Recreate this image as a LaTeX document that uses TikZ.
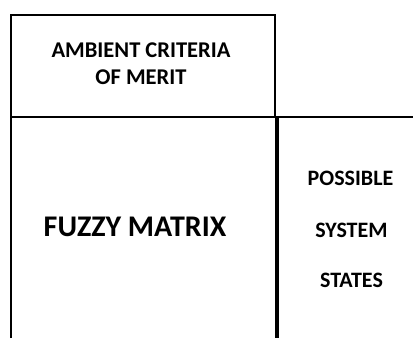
\documentclass[tikz,border=0pt]{standalone}
\usepackage{fontspec}
\setmainfont{Carlito}
\begin{document}
\begin{tikzpicture}[x=1pt,y=-1pt,
  rule/.style={line width=2pt},
  heavy/.style={line width=3.6pt},
  lbl/.style={inner sep=0pt, anchor=center}]
\useasboundingbox (0,0) rectangle (413,338);
% frame of the criteria box and the grid lines
\coordinate (tl) at (10.5,15);
\coordinate (tr) at (275,15);
\coordinate (bl) at (10.5,338);
\coordinate (ml) at (10.5,117);
\coordinate (mr) at (413,117);
\coordinate (cb) at (277,117);
\coordinate (cbb) at (277,338);
\draw[rule] (bl) -- (tl) -- (tr) -- (tr |- ml);
\draw[rule] (ml) -- (mr);
\draw[heavy] (cb) -- (cbb);
% labels
\node[lbl, font=\bfseries\fontsize{22.5}{22.5}\selectfont] (amb) at (141,50.5) {AMBIENT CRITERIA};
\node[lbl, font=\bfseries\fontsize{22.5}{22.5}\selectfont] (merit) at (141,77) {OF MERIT};
\node[lbl, font=\bfseries\fontsize{30}{30}\selectfont] (fuzzy) at (135,227) {FUZZY MATRIX};
\node[lbl, font=\bfseries\fontsize{22}{22}\selectfont] (poss) at (350.5,178) {POSSIBLE};
\node[lbl, font=\bfseries\fontsize{22}{22}\selectfont] (sys) at (351.5,230) {SYSTEM};
\node[lbl, font=\bfseries\fontsize{22}{22}\selectfont] (states) at (351.5,280) {STATES};
\end{tikzpicture}
\end{document}
